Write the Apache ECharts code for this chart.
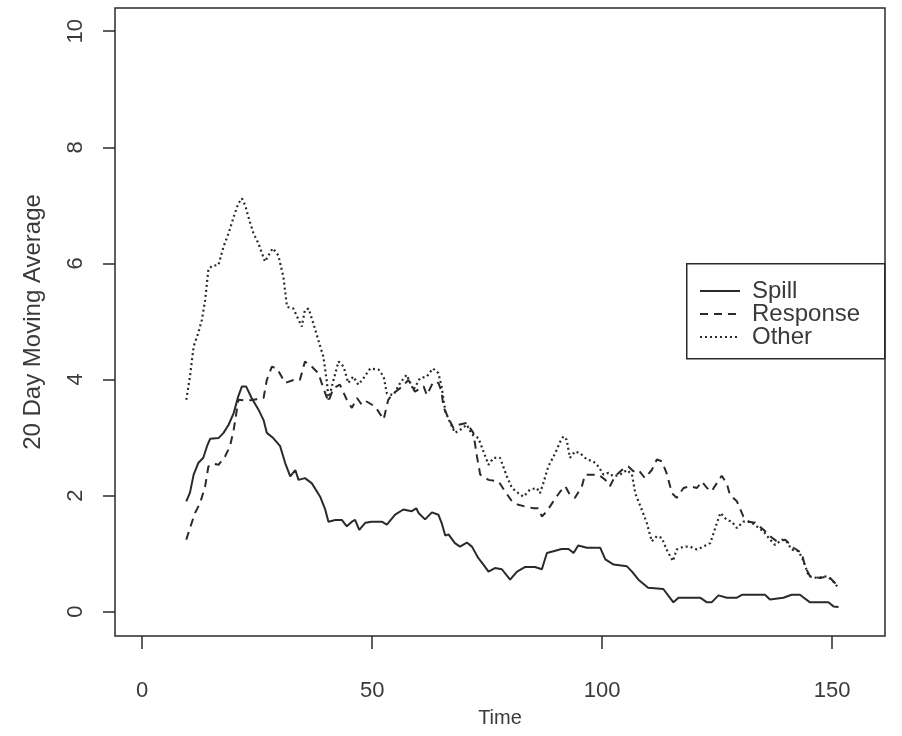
<!DOCTYPE html>
<html>
<head>
<meta charset="utf-8">
<script src="https://cdn.jsdelivr.net/npm/echarts@6/dist/echarts.min.js"></script>
<style>
html,body{margin:0;padding:0;background:#fff;}
#chart{width:902px;height:736px;}
</style>
</head>
<body>
<div id="chart"></div>
<script>
const xTicks = [0, 50, 100, 150];
const yTicks = [0, 2, 4, 6, 8, 10];
const seriesNames = ['Spill', 'Response', 'Other'];

const spillTime = [9.6,10.4,11.2,12.2,13.3,14.1,14.8,16.6,17.7,18.8,19.9,20.9,21.7,22.6,23.8,25.3,26.4,27.1,28.5,30.0,31.1,32.2,33.3,34.0,35.4,36.9,38.7,39.8,40.5,42.0,43.4,44.5,45.6,46.3,47.2,48.5,49.9,52.1,53.2,55.0,56.8,58.6,59.6,60.1,61.5,63.0,64.4,65.1,65.9,66.6,68.0,69.1,70.6,71.7,73.1,74.2,75.3,76.7,78.2,80.0,81.5,83.3,85.4,86.9,88.0,89.4,91.2,92.7,93.8,94.8,96.7,99.6,100.7,102.5,105.4,106.5,107.9,110.0,113.3,115.5,116.6,121.3,122.8,123.8,125.3,127.1,129.3,130.4,135.4,136.5,139.4,141.2,143.0,145.2,149.2,150.3,151.4];
const spillValue = [1.90,2.05,2.36,2.56,2.65,2.85,2.98,2.99,3.08,3.22,3.42,3.71,3.88,3.88,3.68,3.48,3.30,3.08,2.99,2.85,2.56,2.33,2.44,2.27,2.30,2.21,1.98,1.76,1.55,1.58,1.58,1.47,1.55,1.58,1.41,1.53,1.55,1.55,1.50,1.67,1.76,1.73,1.78,1.70,1.59,1.71,1.67,1.53,1.31,1.33,1.18,1.12,1.19,1.12,0.92,0.81,0.69,0.75,0.73,0.55,0.69,0.77,0.77,0.73,1.01,1.04,1.08,1.08,1.01,1.14,1.10,1.10,0.90,0.81,0.78,0.69,0.55,0.41,0.39,0.16,0.24,0.24,0.16,0.16,0.28,0.24,0.24,0.29,0.29,0.21,0.24,0.29,0.29,0.16,0.16,0.09,0.08];

const responseTime = [9.6,10.4,11.5,12.6,13.7,14.4,15.5,16.6,18.0,19.1,19.9,20.6,20.9,22.0,23.5,24.9,26.4,27.1,28.2,29.3,31.1,32.9,34.3,35.4,36.9,38.3,39.4,40.5,41.6,43.0,44.5,45.6,46.7,47.8,48.8,50.7,52.5,53.5,54.6,56.1,57.9,59.3,61.2,61.9,63.3,64.4,65.1,65.5,66.6,67.7,68.8,70.6,72.0,72.8,73.5,75.3,77.5,78.9,80.4,81.8,83.3,85.1,86.1,86.9,88.0,89.4,90.9,92.0,93.0,94.1,95.6,96.3,97.8,99.2,100.7,101.7,102.8,104.3,105.7,106.8,107.9,109.3,110.8,111.9,113.0,114.0,115.2,116.2,117.7,119.1,120.6,121.7,122.8,123.8,124.9,126.0,127.1,127.8,129.3,130.7,131.8,133.3,135.1,136.5,138.0,139.8,141.6,143.4,144.1,145.2,147.4,149.2,150.3,151.2];
const responseValue = [1.24,1.44,1.70,1.87,2.16,2.50,2.55,2.53,2.67,2.85,3.13,3.48,3.65,3.64,3.64,3.66,3.68,3.99,4.22,4.19,3.94,3.99,3.99,4.31,4.22,4.11,3.85,3.62,3.85,3.91,3.65,3.51,3.68,3.56,3.62,3.53,3.31,3.65,3.76,3.85,3.99,3.79,3.88,3.73,3.96,3.94,3.79,3.53,3.33,3.16,3.22,3.25,3.08,2.67,2.36,2.27,2.24,2.07,1.90,1.84,1.81,1.78,1.78,1.64,1.73,1.90,2.07,2.16,2.01,1.96,2.16,2.36,2.36,2.36,2.27,2.16,2.33,2.44,2.50,2.42,2.44,2.30,2.44,2.62,2.59,2.39,2.04,1.96,2.13,2.16,2.13,2.24,2.13,2.07,2.21,2.34,2.21,2.01,1.90,1.64,1.55,1.53,1.41,1.30,1.21,1.24,1.10,1.01,0.78,0.61,0.58,0.61,0.52,0.45];

const otherTime = [9.6,10.4,11.2,12.2,13.0,13.7,14.4,15.2,16.6,17.7,18.8,19.9,20.9,21.7,22.4,23.1,24.2,25.3,26.7,27.5,28.4,29.6,30.7,31.5,32.9,34.0,34.7,35.4,36.2,37.2,38.3,39.4,40.2,40.5,41.6,42.7,43.8,44.8,45.9,47.0,48.1,49.6,51.4,52.5,53.2,54.6,56.1,57.5,59.0,60.4,61.9,63.2,64.4,65.1,65.9,67.0,68.0,69.1,70.6,71.7,73.1,74.2,75.3,76.4,77.8,79.3,80.4,81.8,82.9,84.3,85.8,86.5,87.2,88.3,89.8,90.9,91.6,92.3,93.0,94.1,95.2,96.7,98.1,99.2,100.3,101.4,102.5,103.9,105.4,106.5,107.2,108.6,109.7,110.8,111.9,113.0,114.0,115.4,116.2,117.7,119.1,120.6,122.0,123.5,124.6,125.7,127.1,128.2,129.3,130.7,132.2,133.6,135.1,136.5,137.6,139.1,140.1,141.2,142.7,143.8,144.9,146.7,148.8,149.9,150.6,151.3];
const otherValue = [3.65,4.05,4.57,4.80,5.03,5.37,5.89,5.96,5.97,6.29,6.52,6.80,7.03,7.12,7.00,6.80,6.52,6.34,6.03,6.14,6.26,6.14,5.77,5.25,5.22,5.03,4.91,5.20,5.22,4.97,4.68,4.39,3.94,3.65,3.99,4.31,4.22,3.94,4.05,3.91,4.02,4.19,4.17,4.05,3.76,3.73,3.94,4.08,3.82,4.02,4.05,4.19,4.11,3.88,3.45,3.25,3.08,3.13,3.22,3.05,2.99,2.76,2.53,2.65,2.65,2.33,2.13,2.04,1.98,2.10,2.13,2.04,2.21,2.50,2.73,2.93,3.02,2.96,2.65,2.76,2.73,2.62,2.59,2.50,2.36,2.39,2.33,2.36,2.44,2.36,2.04,1.76,1.53,1.21,1.30,1.27,1.07,0.87,1.07,1.12,1.12,1.07,1.12,1.18,1.44,1.70,1.58,1.55,1.44,1.55,1.55,1.47,1.38,1.24,1.15,1.24,1.21,1.07,1.04,0.87,0.61,0.58,0.61,0.55,0.49,0.41];

function pairs(t, v) { return t.map((x, i) => [x, v[i]]); }

const ink = '#2a2a2a';
const txt = '#3a3a3a';
const font = 'Liberation Sans, Arial, sans-serif';

const chart = echarts.init(document.getElementById('chart'), null, {renderer: 'canvas'});

const legendX = 686, legendY = 263;
const dashTypes = ['solid', [8, 6], [2, 3]];
const rowY = [291, 314, 337];

chart.setOption({
  animation: false,
  backgroundColor: '#fff',
  grid: {left: 115, top: 8, right: 17, bottom: 100, show: true, borderColor: ink, borderWidth: 1.5, backgroundColor: 'transparent'},
  xAxis: {
    type: 'value', min: -5.9, max: 161.5,
    name: 'Time', nameLocation: 'middle', nameGap: 72,
    nameTextStyle: {fontFamily: font, fontSize: 20, color: txt},
    axisLine: {show: false, onZero: false},
    axisTick: {show: true, inside: false, length: 13, lineStyle: {color: ink, width: 1.5}, customValues: xTicks},
    axisLabel: {show: true, margin: 44, fontFamily: font, fontSize: 22, color: txt, customValues: xTicks, formatter: v => String(v)},
    splitLine: {show: false}
  },
  yAxis: {
    type: 'value', min: -0.42, max: 10.4,
    name: '20 Day Moving Average', nameLocation: 'middle', nameGap: 70, nameRotate: 90,
    nameTextStyle: {fontFamily: font, fontSize: 24, color: txt},
    axisLine: {show: false, onZero: false},
    axisTick: {show: true, inside: false, length: 12, lineStyle: {color: ink, width: 1.5}, customValues: yTicks},
    axisLabel: {show: true, margin: 28, rotate: 90, fontFamily: font, fontSize: 22, color: txt, customValues: yTicks, formatter: v => String(v)},
    splitLine: {show: false}
  },
  series: [
    {name: seriesNames[0], type: 'line', data: pairs(spillTime, spillValue), showSymbol: false, symbol: 'none', lineStyle: {color: ink, width: 2, type: dashTypes[0]}},
    {name: seriesNames[1], type: 'line', data: pairs(responseTime, responseValue), showSymbol: false, symbol: 'none', lineStyle: {color: ink, width: 2, type: dashTypes[1]}},
    {name: seriesNames[2], type: 'line', data: pairs(otherTime, otherValue), showSymbol: false, symbol: 'none', lineStyle: {color: ink, width: 2.2, type: dashTypes[2]}}
  ],
  graphic: [
    {type: 'rect', left: legendX, top: legendY, shape: {width: 198, height: 95}, style: {fill: '#fff', stroke: ink, lineWidth: 1.5}, z: 100},
  ].concat(seriesNames.flatMap((n, i) => [
    {type: 'line', shape: {x1: legendX + 14, y1: rowY[i], x2: legendX + 54, y2: rowY[i]}, style: {stroke: ink, lineWidth: 2, lineDash: i === 0 ? null : dashTypes[i]}, z: 101},
    {type: 'text', x: legendX + 66, y: rowY[i], style: {text: n, fontFamily: font, fontSize: 24, fill: txt, verticalAlign: 'middle'}, z: 101}
  ]))
});
</script>
</body>
</html>
